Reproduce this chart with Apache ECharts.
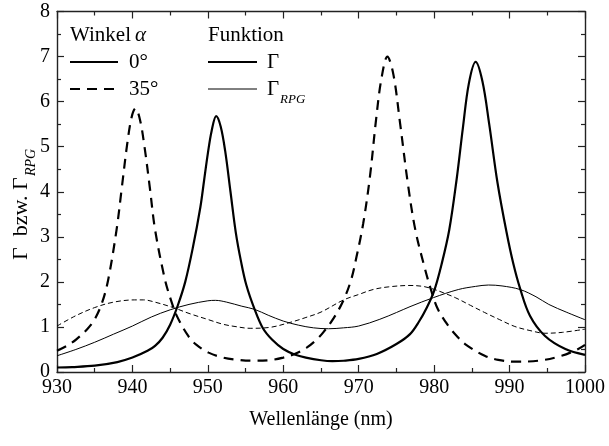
<!DOCTYPE html>
<html><head><meta charset="utf-8">
<script src="https://cdn.jsdelivr.net/npm/echarts@6/dist/echarts.min.js"></script>
<style>html,body{margin:0;padding:0;background:#fff}#c{width:609px;height:446px}</style>
</head><body><div id="c"></div>
<script>
// Γ, angle 0°
var g0X = [930, 932, 935, 938, 940, 942, 943, 944, 945, 946, 947, 948, 949, 949.5, 950, 950.5, 951.1, 951.7, 952.3, 953, 953.7, 954.4, 955.1, 956.2, 957.3, 958.5, 960, 961.5, 963, 965, 966.5, 968, 970, 972.4, 975, 976.8, 978, 979, 980, 981, 982, 983, 983.8, 984.6, 985.5, 986.4, 987.3, 988.4, 989.6, 990.5, 991.4, 992.7, 994.7, 997.4, 1000];
var g0Y = [0.10, 0.11, 0.14, 0.22, 0.32, 0.47, 0.58, 0.76, 1.05, 1.47, 2.0, 2.75, 3.65, 4.25, 4.85, 5.35, 5.68, 5.45, 4.9, 4.0, 3.1, 2.45, 1.93, 1.39, 0.97, 0.72, 0.51, 0.39, 0.32, 0.26, 0.24, 0.25, 0.29, 0.40, 0.62, 0.84, 1.12, 1.42, 1.8, 2.4, 3.15, 4.3, 5.4, 6.4, 6.88, 6.45, 5.5, 4.2, 3.1, 2.4, 1.85, 1.25, 0.80, 0.51, 0.38];
// Γ, angle 35°
var g35X = [930, 931.5, 932.6, 934, 935, 936, 936.8, 937.9, 938.6, 939.3, 939.9, 940.4, 941, 941.6, 942.3, 943, 944.3, 945.1, 945.9, 947.4, 948.5, 950.1, 952, 954, 956, 958, 960, 961.5, 963.1, 964.3, 965.3, 966.7, 968, 969, 969.7, 970.6, 971.5, 972.3, 973, 973.8, 974.6, 975.5, 976.5, 977.5, 978.8, 979.7, 980.5, 981.9, 983, 984.1, 986.7, 988.5, 990.7, 993.8, 996.9, 999.1, 1000];
var g35Y = [0.47, 0.6, 0.73, 0.95, 1.17, 1.55, 2.06, 3.16, 4.1, 5.05, 5.66, 5.85, 5.6, 5.0, 4.1, 3.16, 2.06, 1.6, 1.24, 0.80, 0.6, 0.43, 0.32, 0.27, 0.25, 0.26, 0.32, 0.4, 0.54, 0.7, 0.88, 1.2, 1.6, 2.05, 2.55, 3.3, 4.35, 5.6, 6.5, 7.0, 6.6, 5.5, 4.2, 3.16, 2.28, 1.76, 1.39, 1.02, 0.8, 0.62, 0.36, 0.27, 0.23, 0.25, 0.36, 0.51, 0.60];
// Γ_RPG, angle 0°
var r0X = [930, 932.5, 935, 937.5, 940, 942.5, 945, 947.5, 950, 951, 952.5, 954.5, 956.2, 958, 960, 962, 964, 966, 968, 970, 972.8, 975, 976.8, 979.9, 983.2, 985.5, 987.2, 989, 991.4, 993.5, 995.2, 997.5, 1000];
var r0Y = [0.36, 0.5, 0.66, 0.84, 1.02, 1.22, 1.38, 1.5, 1.58, 1.59, 1.55, 1.46, 1.39, 1.26, 1.13, 1.04, 0.98, 0.96, 0.98, 1.02, 1.17, 1.32, 1.45, 1.65, 1.83, 1.9, 1.93, 1.91, 1.83, 1.67, 1.50, 1.33, 1.16];
// Γ_RPG, angle 35°
var r35X = [930, 932.5, 935, 937.5, 940.3, 941.5, 943, 945.4, 947.5, 950.1, 952, 953.6, 955.6, 958.2, 960.9, 963, 965, 968, 970, 971.9, 974, 976.8, 978.5, 979.7, 981.2, 982.8, 984.8, 986.7, 988.7, 990.7, 992.7, 994.7, 997, 1000];
var r35Y = [1.02, 1.25, 1.43, 1.55, 1.60, 1.60, 1.55, 1.43, 1.3, 1.16, 1.06, 1.01, 0.97, 0.99, 1.10, 1.21, 1.33, 1.60, 1.72, 1.83, 1.89, 1.92, 1.9, 1.85, 1.76, 1.65, 1.48, 1.32, 1.16, 1.01, 0.92, 0.86, 0.88, 0.95];

var xTicks = [930, 1000, 10];
var yTicks = [0, 8, 1];

function pairs(xs, ys) { return xs.map(function (x, i) { return [x, ys[i]]; }); }

var FONT = 'Liberation Serif, Times New Roman, serif';
var chart = echarts.init(document.getElementById('c'), null, {renderer: 'canvas'});

function xAx(pos, showLabel) {
  return {
    type: 'value', position: pos, min: xTicks[0], max: xTicks[1], interval: xTicks[2],
    axisLine: {show: true, onZero: false, lineStyle: {color: '#222', width: 1.4}},
    axisTick: {show: true, inside: true, length: 7, lineStyle: {color: '#222', width: 1.2}},
    minorTick: {show: true, splitNumber: 2, length: 4, lineStyle: {color: '#222', width: 1.2}},
    axisLabel: {show: showLabel, color: '#000', fontFamily: FONT, fontSize: 20, margin: 6,
      formatter: function (v) { return String(v); }},
    splitLine: {show: false}
  };
}
function yAx(pos, showLabel) {
  return {
    type: 'value', position: pos, min: yTicks[0], max: yTicks[1], interval: yTicks[2],
    axisLine: {show: true, onZero: false, lineStyle: {color: '#222', width: 1.4}},
    axisTick: {show: true, inside: true, length: 7, lineStyle: {color: '#222', width: 1.2}},
    minorTick: {show: true, splitNumber: 2, length: 4, lineStyle: {color: '#222', width: 1.2}},
    axisLabel: {show: showLabel, color: '#000', fontFamily: FONT, fontSize: 20, margin: 7,
      formatter: function (v) { return String(v); }},
    splitLine: {show: false}
  };
}

function ser(name, xs, ys, width, dash) {
  return {
    name: name, type: 'line', data: pairs(xs, ys), xAxisIndex: 0, yAxisIndex: 0,
    showSymbol: false, smooth: 0.35, clip: true,
    lineStyle: {color: '#000', width: width, type: dash || 'solid'}
  };
}

var T = function (text, x, y, size, italic, align) {
  return {type: 'text', x: x, y: y, style: {text: text, fontFamily: FONT, fontSize: size,
    fontStyle: italic ? 'italic' : 'normal', fill: '#000', textAlign: align || 'left', textVerticalAlign: 'middle'}};
};
var L = function (x1, x2, y, w, dash) {
  return {type: 'line', shape: {x1: x1, y1: y, x2: x2, y2: y}, style: {stroke: '#000', lineWidth: w, lineDash: dash || null}};
};

chart.setOption({
  animation: false,
  grid: {left: 57, right: 24, top: 11.5, bottom: 74, containLabel: false},
  xAxis: [xAx('bottom', true), xAx('top', false)],
  yAxis: [yAx('left', true), yAx('right', false)],
  series: [
    ser('Γ 0°', g0X, g0Y, 2.2),
    ser('Γ 35°', g35X, g35Y, 2.2, [10, 7]),
    ser('ΓRPG 0°', r0X, r0Y, 1),
    ser('ΓRPG 35°', r35X, r35Y, 1, [5, 3])
  ],
  graphic: [
    T('Winkel', 70, 35, 21), T('α', 135, 35, 21, true),
    L(70, 118, 62, 2.2), T('0°', 129, 62, 21),
    L(70, 118, 89, 2.2, [10, 7]), T('35°', 129, 89, 21),
    T('Funktion', 208, 35, 21),
    L(208, 257, 62, 2.2), T('Γ', 267, 62, 21),
    L(208, 257, 89, 1), T('Γ', 267, 89, 21), T('RPG', 280, 100, 13, true),
    T('Wellenlänge (nm)', 321, 420, 20, false, 'center'),
    {type: 'group', x: 21, y: 205, rotation: Math.PI / 2, children: [
      T('Γ  bzw. Γ', -55, 0, 22),
      T('RPG', 29, 10, 14, true)
    ]}
  ]
});
</script></body></html>
